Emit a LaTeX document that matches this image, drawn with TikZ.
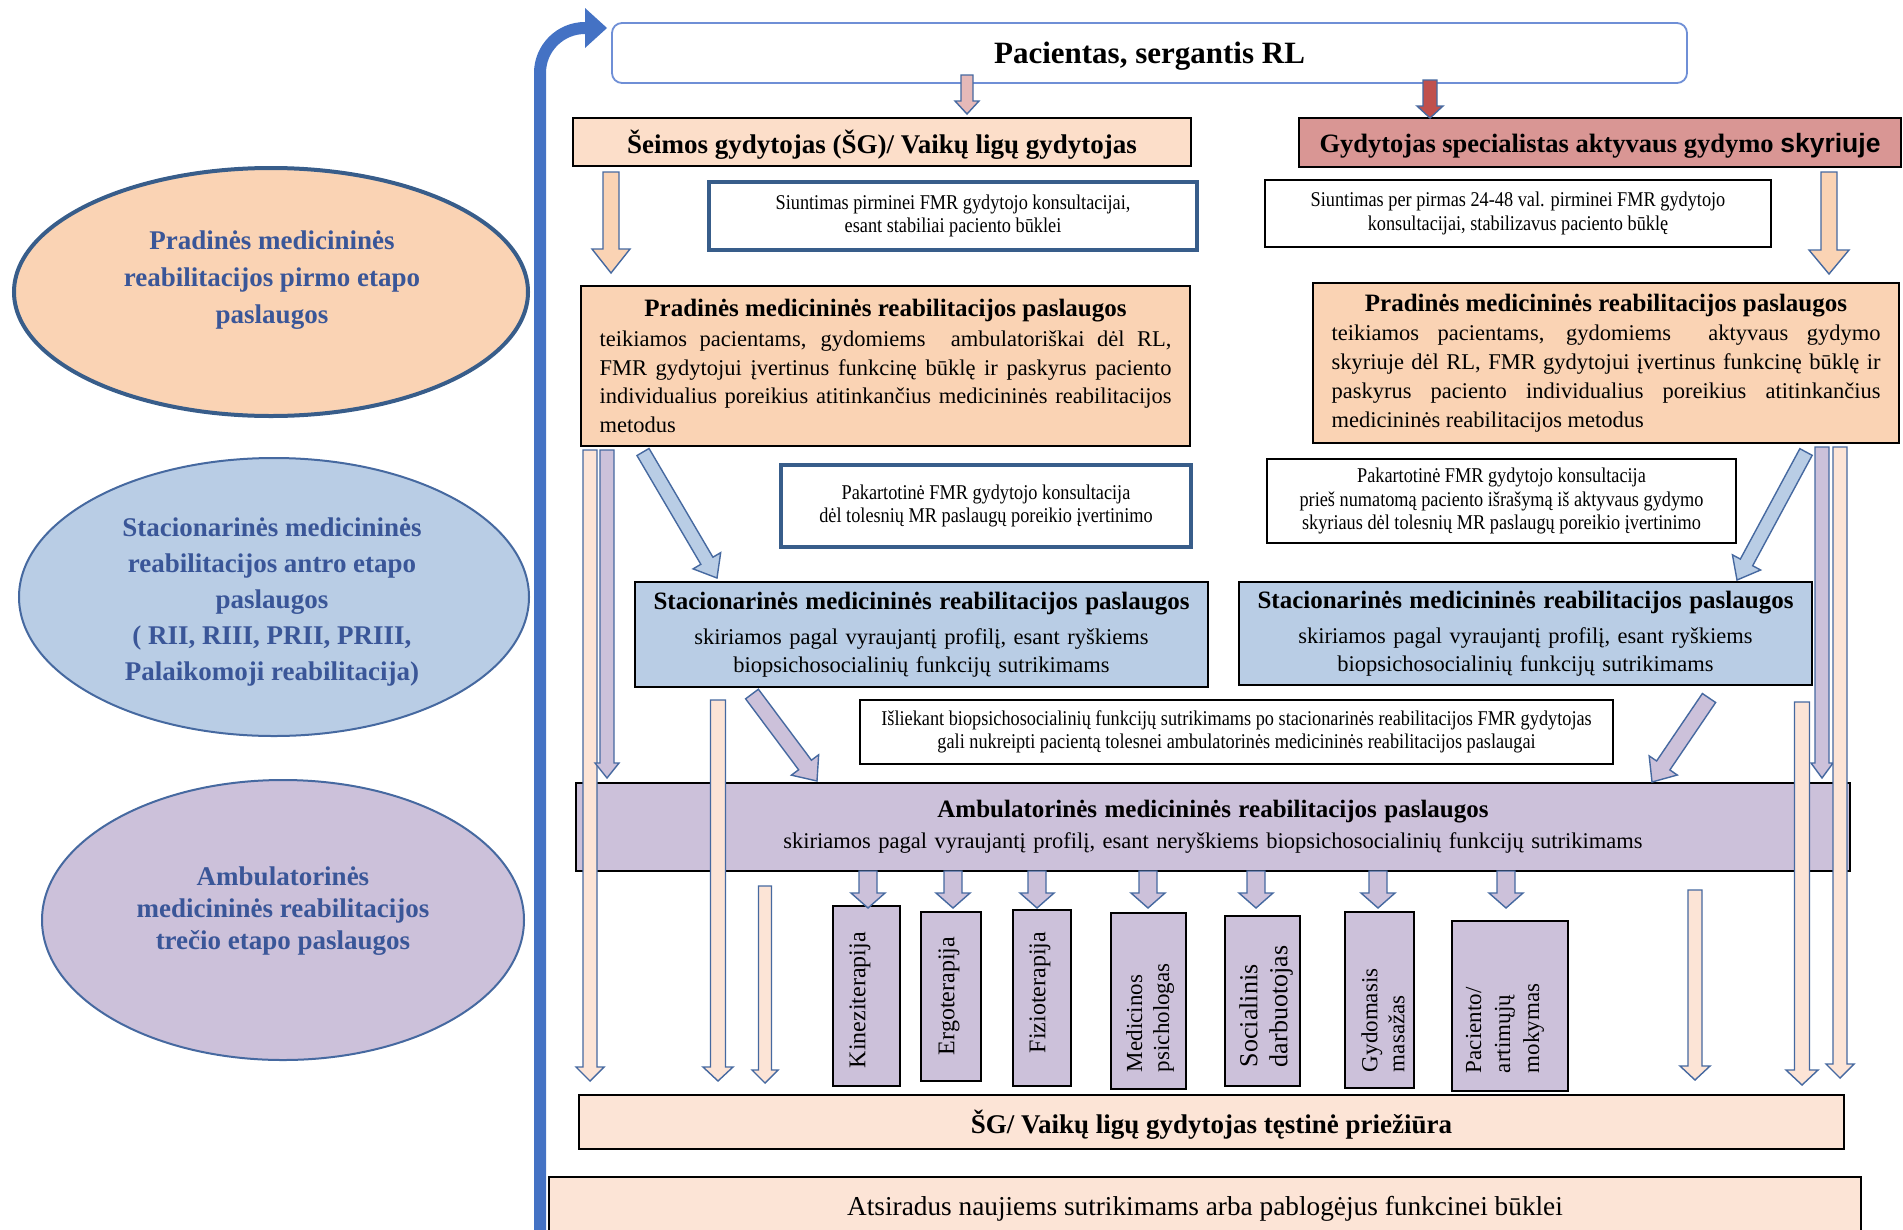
\documentclass[tikz,border=0pt]{standalone}
\usepackage{fontspec}
\setmainfont{Liberation Serif}
\newfontfamily\sansface{Liberation Sans}
\newfontfamily\narrowserif{Liberation Serif}[FakeStretch=0.87]
\usetikzlibrary{calc,shapes.geometric}
\setlength{\parindent}{0pt}
\tolerance=10000 \hyphenpenalty=10000 \exhyphenpenalty=10000 \hbadness=10000

\definecolor{peach}{HTML}{FAD3B4}
\definecolor{peachlight}{HTML}{FCE4D6}
\definecolor{peachmid}{HTML}{FCDEC9}
\definecolor{rosebox}{HTML}{D99694}
\definecolor{bluebox}{HTML}{B9CDE5}
\definecolor{lilac}{HTML}{CCC1DA}
\definecolor{pinkarrow}{HTML}{E6B9B8}
\definecolor{redarrow}{HTML}{C0504D}
\definecolor{arrowline}{RGB}{70,105,160}
\definecolor{noteblue}{HTML}{385D8A}
\definecolor{ellipsetext}{RGB}{58,86,152}
\definecolor{titleline}{HTML}{6F8FD6}
\definecolor{bendblue}{HTML}{4472C4}

% block arrow: style, tail, tip, half shaft width, half head width, head length
\newcommand{\blockarrow}[6]{%
  \path[#1] let \p1=(#2), \p2=(#3), \n1={atan2((\y2)-(\y1),(\x2)-(\x1))} in
    ($(\p1)+(\n1+90:#4)$)
    -- ($(\p2)+(\n1+180:#6)+(\n1+90:#4)$)
    -- ($(\p2)+(\n1+180:#6)+(\n1+90:#5)$)
    -- (\p2)
    -- ($(\p2)+(\n1+180:#6)+(\n1-90:#5)$)
    -- ($(\p2)+(\n1+180:#6)+(\n1-90:#4)$)
    -- ($(\p1)+(\n1-90:#4)$)
    -- cycle;%
}

\begin{document}
\begin{tikzpicture}[x=1pt,y=1pt,
  every node/.style={inner sep=0pt, outer sep=0pt},
  box/.style={draw=black, line width=1.1pt},
  note/.style={draw=black, line width=1.1pt, fill=white, align=center,
    font=\narrowserif\fontsize{21}{23.5}\selectfont},
  thicknote/.style={note, draw=noteblue, line width=4.5pt},
  oval/.style={ellipse, fill=#1, draw=arrowline, line width=2pt},
  ovaltext/.style={align=center, text=ellipsetext},
  svc/.style={box, fill=lilac},
  svctext/.style={rotate=90, anchor=west, align=left},
  blk/.style={draw=arrowline, line width=1.4pt, line join=miter, fill=#1},
  headfont/.style={font=\bfseries\fontsize{27}{30}\selectfont, text depth=0pt}]

\useasboundingbox (0,0) rectangle (1903,-1229);
\clip (0,0) rectangle (1903,-1229);
\fill[white] (0,0) rectangle (1903,-1229);

% ---------- stage ellipses ----------
\node[oval=peach, draw=noteblue, line width=4pt, minimum width=514pt, minimum height=248pt] (e1) at (271,-292) {};
\node[ovaltext, font=\bfseries\fontsize{27}{37}\selectfont] (e1t) at (272,-280)
  {Pradinės medicininės\\reabilitacijos pirmo etapo\\paslaugos};

\node[oval=bluebox, minimum width=510pt, minimum height=278pt] (e2) at (274,-597) {};
\node[ovaltext, font=\bfseries\fontsize{27}{36}\selectfont] (e2t) at (272,-602)
  {Stacionarinės medicininės\\reabilitacijos antro etapo\\paslaugos\\( RII, RIII, PRII, PRIII,\\Palaikomoji reabilitacija)};

\node[oval=lilac, minimum width=482pt, minimum height=280pt] (e3) at (283,-920) {};
\node[ovaltext, font=\bfseries\fontsize{27}{32}\selectfont] (e3t) at (283,-911)
  {Ambulatorinės\\medicininės reabilitacijos\\trečio etapo paslaugos};

% ---------- return arrow on the left ----------
\coordinate (retA) at (540,-1240);
\coordinate (retB) at (540,-73);
\coordinate (retC) at (587,-28);
\draw[bendblue, line width=12pt] (retA) -- (retB) arc[start angle=180, end angle=90, radius=45] -- (retC);
\fill[bendblue] (585,-8) -- (607,-28) -- (585,-48) -- cycle;

% ---------- top level ----------
\node[draw=titleline, line width=1.8pt, rounded corners=10pt, minimum width=1075pt, minimum height=60pt,
  font=\bfseries\fontsize{31}{36}\selectfont, text depth=0pt] (title) at (1149.5,-53) {Pacientas, sergantis RL};

\node[box, fill=peachmid, minimum width=618pt, minimum height=48pt, headfont] (fam) at (882,-142)
  {Šeimos gydytojas (ŠG)/ Vaikų ligų gydytojas};
\node[box, fill=rosebox, minimum width=602pt, minimum height=49pt, headfont,
  font=\bfseries\fontsize{26.5}{30}\selectfont] (spec) at (1600,-142.5)
  {Gydytojas specialistas aktyvaus gydymo {\sansface skyriuje}};

\node[thicknote, minimum width=488pt, minimum height=68pt] (ref1) at (953,-216)
  {Siuntimas pirminei FMR gydytojo konsultacijai,\\esant stabiliai paciento būklei};
\node[note, minimum width=506pt, minimum height=67pt] (ref2) at (1518,-213.5)
  {Siuntimas per pirmas 24-48 val. pirminei FMR gydytojo\\konsultacijai, stabilizavus paciento būklę};

% ---------- first stage ----------
\node[box, fill=peach, minimum width=609pt, minimum height=160pt, text width=572pt, align=justify,
  font=\fontsize{22.5}{28.8}\selectfont] (prim1) at (885.5,-366)
  {{\centering\bfseries\fontsize{25}{30}\selectfont Pradinės medicininės reabilitacijos paslaugos\par}\vspace{1pt}
   teikiamos pacientams, gydomiems\ \ ambulatoriškai dėl RL,\linebreak
   FMR gydytojui įvertinus funkcinę būklę ir paskyrus paciento\linebreak
   individualius poreikius atitinkančius medicininės reabilitacijos\linebreak
   metodus};
\node[box, fill=peach, minimum width=586pt, minimum height=160pt, text width=549pt, align=justify,
  font=\fontsize{22.5}{28.8}\selectfont] (prim2) at (1606,-363)
  {{\centering\bfseries\fontsize{25}{30}\selectfont Pradinės medicininės reabilitacijos paslaugos\par}\vspace{1pt}
   teikiamos pacientams, gydomiems\ \ aktyvaus gydymo\linebreak
   skyriuje dėl RL, FMR gydytojui įvertinus funkcinę būklę ir\linebreak
   paskyrus paciento individualius poreikius atitinkančius\linebreak
   medicininės reabilitacijos metodus};

\node[thicknote, minimum width=410pt, minimum height=82pt] (rep1) at (986,-506)
  {Pakartotinė FMR gydytojo konsultacija\\dėl tolesnių MR paslaugų poreikio įvertinimo};
\node[note, minimum width=469pt, minimum height=84pt] (rep2) at (1501.5,-501)
  {Pakartotinė FMR gydytojo konsultacija\\prieš numatomą paciento išrašymą iš aktyvaus gydymo\\skyriaus dėl tolesnių MR paslaugų poreikio įvertinimo};

% ---------- second stage ----------
\node[box, fill=bluebox, minimum width=573pt, minimum height=105pt, text width=560pt, align=center,
  font=\fontsize{22.5}{28}\selectfont] (inpat1) at (921.5,-634.5)
  {\vspace*{5pt}{\bfseries\fontsize{25}{30}\selectfont Stacionarinės medicininės reabilitacijos paslaugos\par}\vspace{2pt}
   skiriamos pagal vyraujantį profilį, esant ryškiems\\biopsichosocialinių funkcijų sutrikimams};
\node[box, fill=bluebox, minimum width=573pt, minimum height=103pt, text width=560pt, align=center,
  font=\fontsize{22.5}{28}\selectfont] (inpat2) at (1525.5,-633.5)
  {\vspace*{5pt}{\bfseries\fontsize{25}{30}\selectfont Stacionarinės medicininės reabilitacijos paslaugos\par}\vspace{2pt}
   skiriamos pagal vyraujantį profilį, esant ryškiems\\biopsichosocialinių funkcijų sutrikimams};

\node[note, minimum width=753pt, minimum height=64pt] (persist) at (1236.5,-732)
  {Išliekant biopsichosocialinių funkcijų sutrikimams po stacionarinės reabilitacijos FMR gydytojas\\gali nukreipti pacientą tolesnei ambulatorinės medicininės reabilitacijos paslaugai};

% ---------- third stage ----------
\node[box, fill=lilac, minimum width=1274pt, minimum height=88pt, text width=1200pt, align=center,
  font=\fontsize{22.5}{28}\selectfont] (outpat) at (1213,-827)
  {{\bfseries\fontsize{25}{30}\selectfont Ambulatorinės medicininės reabilitacijos paslaugos\par}\vspace{3pt}
   skiriamos pagal vyraujantį profilį, esant neryškiems biopsichosocialinių funkcijų sutrikimams};

\node[svc, minimum width=67pt, minimum height=180pt] (kin) at (866.5,-996) {};
\node[svc, minimum width=60pt, minimum height=169pt] (erg) at (951,-996.5) {};
\node[svc, minimum width=58pt, minimum height=176pt] (fiz) at (1042,-998) {};
\node[svc, minimum width=75pt, minimum height=176pt] (med) at (1148.5,-1001) {};
\node[svc, minimum width=75pt, minimum height=170pt] (soc) at (1262.5,-1001) {};
\node[svc, minimum width=69pt, minimum height=176pt] (mas) at (1379.5,-1000) {};
\node[svc, minimum width=116pt, minimum height=170pt] (edu) at (1510,-1006) {};

\node[svctext, font=\fontsize{24}{27}\selectfont] (kint) at (860,-1068) {Kineziterapija};
\node[svctext, font=\fontsize{24}{27}\selectfont] (ergt) at (949,-1055) {Ergoterapija};
\node[svctext, font=\fontsize{24}{27}\selectfont] (fizt) at (1040,-1053) {Fizioterapija};
\node[svctext, font=\fontsize{23}{27}\selectfont] (medt) at (1150,-1072) {Medicinos\\psichologas};
\node[svctext, font=\fontsize{26}{30}\selectfont] (soct) at (1266,-1067) {Socialinis\\darbuotojas};
\node[svctext, font=\fontsize{23}{27}\selectfont] (mast) at (1383,-1072) {Gydomasis\\masažas};
\node[svctext, font=\fontsize{23}{29}\selectfont] (edut) at (1505,-1073) {Paciento/\\artimųjų\\mokymas};

% ---------- follow-up ----------
\node[box, fill=peachlight, minimum width=1265pt, minimum height=54pt,
  font=\bfseries\fontsize{27}{30}\selectfont, text depth=0pt] (sg) at (1211.5,-1122)
  {ŠG/ Vaikų ligų gydytojas tęstinė priežiūra};
\node[box, fill=peachlight, minimum width=1312pt, minimum height=58pt,
  font=\fontsize{27.3}{30}\selectfont, text depth=0pt] (ats) at (1205,-1206)
  {Atsiradus naujiems sutrikimams arba pablogėjus funkcinei būklei};

% ---------- arrows ----------
\coordinate (pinkA) at (967,-75);   \coordinate (pinkB) at (967,-114);
\coordinate (redA) at (1430,-80);   \coordinate (redB) at (1430,-118);
\coordinate (famA) at (611,-172);   \coordinate (famB) at (611,-273);
\coordinate (specA) at (1829,-172); \coordinate (specB) at (1829,-274);
\blockarrow{blk=pinkarrow}{pinkA}{pinkB}{6}{12}{13}
\blockarrow{blk=redarrow}{redA}{redB}{7}{13}{12}
\blockarrow{blk=peach}{famA}{famB}{8}{19}{24}
\blockarrow{blk=peach}{specA}{specB}{8}{20}{24}

% diagonal transfers to the inpatient stage
\coordinate (dl1A) at (643,-452);  \coordinate (dl1B) at (717,-578);
\coordinate (dr1A) at (1806,-452); \coordinate (dr1B) at (1737,-580);
\blockarrow{blk=bluebox}{dl1A}{dl1B}{7}{16}{20}
\blockarrow{blk=bluebox}{dr1A}{dr1B}{7}{16}{20}

% diagonal transfers to the outpatient stage
\coordinate (dl2A) at (752,-694);  \coordinate (dl2B) at (817,-781);
\coordinate (dr2A) at (1709,-698); \coordinate (dr2B) at (1652,-782);
\blockarrow{blk=lilac}{dl2A}{dl2B}{8}{17}{20}
\blockarrow{blk=lilac}{dr2A}{dr2B}{8}{17}{20}

% long vertical arrows
\coordinate (v1A) at (590,-450);  \coordinate (v1B) at (590,-1081);
\coordinate (w1A) at (607,-450);  \coordinate (w1B) at (607,-778);
\coordinate (v2A) at (718,-700);  \coordinate (v2B) at (718,-1081);
\coordinate (v3A) at (765,-886);  \coordinate (v3B) at (765,-1083);
\coordinate (v4A) at (1695,-890); \coordinate (v4B) at (1695,-1080);
\coordinate (v5A) at (1802,-702); \coordinate (v5B) at (1802,-1085);
\coordinate (w2A) at (1822,-447); \coordinate (w2B) at (1822,-778);
\coordinate (v6A) at (1840,-447); \coordinate (v6B) at (1840,-1078);
\blockarrow{blk=peachlight}{v1A}{v1B}{7}{14}{14}
\blockarrow{blk=lilac}{w1A}{w1B}{7}{12}{15}
\blockarrow{blk=peachlight}{v2A}{v2B}{7.5}{15}{14}
\blockarrow{blk=peachlight}{v3A}{v3B}{6.5}{13}{13}
\blockarrow{blk=peachlight}{v4A}{v4B}{7}{15}{14}
\blockarrow{blk=peachlight}{v5A}{v5B}{7.5}{16}{15}
\blockarrow{blk=lilac}{w2A}{w2B}{7}{11}{15}
\blockarrow{blk=peachlight}{v6A}{v6B}{7}{14}{14}

% outpatient services
\foreach \s/\dx in {kin/1.5, erg/2, fiz/-5, med/-0.5, soc/-6.5, mas/-1.5, edu/-4}{
  \blockarrow{blk=lilac}{$(outpat.south -| \s.north)+(\dx,0)$}{$(outpat.south -| \s.north)+(\dx,-37)$}{9}{17}{15}
}
\end{tikzpicture}
\end{document}
